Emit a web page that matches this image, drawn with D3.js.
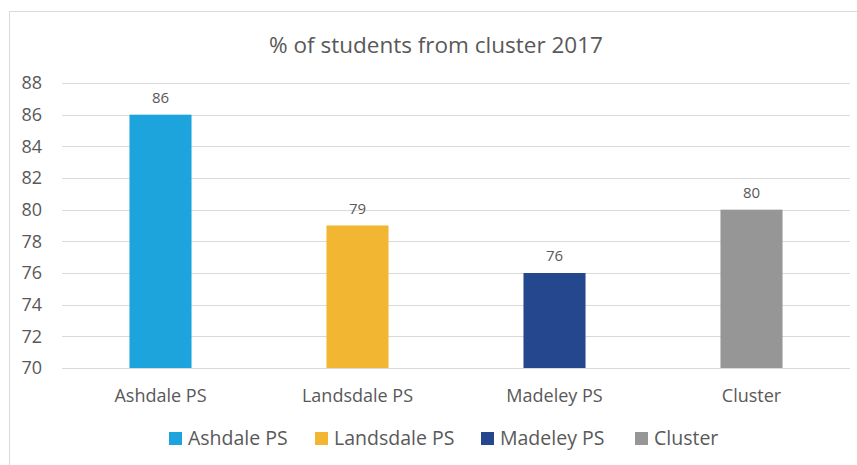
<!DOCTYPE html>
<html>
<head>
<meta charset="utf-8">
<script src="https://cdn.jsdelivr.net/npm/d3@7"></script>
<style>
  body { margin: 0; background: #fff; }
  text { font-family: "Open Sans", "Liberation Sans", sans-serif; fill: #595959; }
</style>
</head>
<body>
<div id="chart"></div>
<script>
// data
var schools = ['Ashdale PS', 'Landsdale PS', 'Madeley PS', 'Cluster'];
var percents = [86, 79, 76, 80];
var colours = ['#1ea4dd', '#f2b632', '#24478e', '#969696'];
var yTicks = [70, 72, 74, 76, 78, 80, 82, 84, 86, 88];

var W = 857, H = 465;
var margin = { left: 62, right: 7, top: 83, bottom: 97 };

var svg = d3.select('#chart').append('svg')
  .attr('width', W)
  .attr('height', H);

// outer chart border
svg.append('rect')
  .attr('x', 9.5).attr('y', 11.5)
  .attr('width', W).attr('height', H)
  .style('fill', 'none')
  .style('stroke', '#d9d9d9');

svg.append('text')
  .attr('x', 436).attr('y', 53)
  .attr('text-anchor', 'middle')
  .style('font-size', '22.5px')
  .text('% of students from cluster 2017');

var x = d3.scaleBand()
  .domain(schools)
  .range([margin.left, W - margin.right]);

var y = d3.scaleLinear()
  .domain([70, 88])
  .range([H - margin.bottom, margin.top]);

var barW = x.bandwidth() * 0.315;

// gridlines
svg.append('g').selectAll('line')
  .data(yTicks)
  .enter().append('line')
  .attr('x1', margin.left)
  .attr('x2', W - margin.right)
  .attr('y1', d => Math.round(y(d)) + 0.5)
  .attr('y2', d => Math.round(y(d)) + 0.5)
  .style('stroke', '#d9d9d9')
  .style('stroke-width', 1);

// y axis labels
var yAxis = svg.append('g')
  .attr('transform', 'translate(' + (margin.left - 20) + ',0)')
  .call(d3.axisLeft(y).tickValues(yTicks).tickSize(0).tickPadding(0));
yAxis.select('.domain').remove();
yAxis.selectAll('text')
  .style('font-size', '18px')
  .style('font-family', '"Open Sans", sans-serif')
  .attr('fill', '#595959');

// x axis labels
var xAxis = svg.append('g')
  .attr('transform', 'translate(0,' + (H - margin.bottom) + ')')
  .call(d3.axisBottom(x).tickSize(0).tickPadding(21));
xAxis.select('.domain').remove();
xAxis.selectAll('text')
  .style('font-size', '18px')
  .style('font-family', '"Open Sans", sans-serif')
  .attr('fill', '#595959');

// bars
svg.append('g').selectAll('rect')
  .data(schools)
  .enter().append('rect')
  .attr('x', (d, i) => x(d) + x.bandwidth() / 2 - barW / 2)
  .attr('y', (d, i) => y(percents[i]))
  .attr('width', barW)
  .attr('height', (d, i) => y(70) - y(percents[i]))
  .style('fill', (d, i) => colours[i]);

// value labels
svg.append('g').selectAll('text')
  .data(schools)
  .enter().append('text')
  .attr('x', d => x(d) + x.bandwidth() / 2)
  .attr('y', (d, i) => y(percents[i]) - 12)
  .attr('text-anchor', 'middle')
  .style('font-size', '15px')
  .text((d, i) => percents[i]);

// legend
var legendX = [169, 315, 481, 635];
var legend = svg.append('g').selectAll('g')
  .data(schools)
  .enter().append('g')
  .attr('transform', (d, i) => 'translate(' + legendX[i] + ',432)');
legend.append('rect')
  .attr('width', 13).attr('height', 13)
  .style('fill', (d, i) => colours[i]);
legend.append('text')
  .attr('x', 19).attr('y', 13)
  .style('font-size', '19.5px')
  .text(d => d);
</script>
</body>
</html>
